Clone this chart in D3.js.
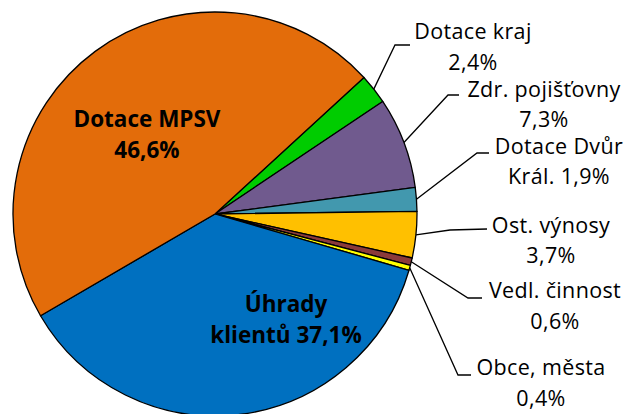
<!DOCTYPE html>
<html>
<head>
<meta charset="utf-8">
<script src="https://cdn.jsdelivr.net/npm/d3@7"></script>
<style>
  body { margin: 0; background: #fff; }
  text { font-family: "Open Sans", Lato, sans-serif; fill: #000; }
</style>
</head>
<body>
<svg class="chart" width="629" height="414"></svg>
<script>
// slices in clockwise order, starting at the green one
const categories = ["Dotace kraj", "Zdr. pojišťovny", "Dotace Dvůr Král.", "Ost. výnosy",
  "Vedl. činnost", "Obce, města", "Úhrady klientů", "Dotace MPSV"];
const shares = [2.4, 7.3, 1.9, 3.7, 0.6, 0.4, 37.1, 46.6];
const colors = ["#00cc00", "#705a8e", "#4298ae", "#ffc000", "#8b3a3a", "#ffff00", "#0070c0", "#e36c0a"];
const labelLines = [
  ["Dotace kraj", "2,4%"],
  ["Zdr. pojišťovny", "7,3%"],
  ["Dotace Dvůr", "Král. 1,9%"],
  ["Ost. výnosy", "3,7%"],
  ["Vedl. činnost", "0,6%"],
  ["Obce, města", "0,4%"],
  ["Úhrady", "klientů 37,1%"],
  ["Dotace MPSV", "46,6%"]
];

const svg = d3.select(".chart");
const cx = 215, cy = 214, radius = 202;
const startAngle = 47.5 * Math.PI / 180;

// where each label sits (first baseline), plus leader elbow/end for outside ones
const layout = [
  { x: 473, y: 39, gap: 31, elbow: [395, 45], end: [410, 45] },
  { x: 544, y: 97, gap: 29.5, elbow: [448, 95], end: [459, 95] },
  { x: 559, y: 154, gap: 29.5, elbow: [477, 153], end: [489, 153] },
  { x: 551, y: 233, gap: 29.5, elbow: [450, 230], end: [487, 229] },
  { x: 555, y: 298, gap: 31, elbow: [468, 298], end: [482, 298] },
  { x: 541, y: 375, gap: 31, elbow: [458, 375], end: [471, 375] },
  { x: 286, y: 312, gap: 31, inside: true },
  { x: 147, y: 127, gap: 31, inside: true }
];

const pie = d3.pie().sort(null).value((d) => d)
  .startAngle(startAngle).endAngle(startAngle + 2 * Math.PI);
const arcs = pie(shares);

const arc = d3.arc().innerRadius(0).outerRadius(radius);

const g = svg.append("g").attr("transform", `translate(${cx},${cy})`);

g.selectAll(".slice")
  .data(arcs)
  .enter()
  .append("path")
  .attr("class", "slice")
  .attr("d", arc)
  .attr("fill", (d, i) => colors[i])
  .attr("stroke", "#000")
  .attr("stroke-width", 1.3)
  .attr("stroke-linejoin", "round");

// leader lines
arcs.forEach((d, i) => {
  const l = layout[i];
  if (l.inside) return;
  const mid = (d.startAngle + d.endAngle) / 2;
  const p0 = [cx + radius * Math.sin(mid), cy - radius * Math.cos(mid)];
  svg.append("polyline")
    .attr("points", [p0, l.elbow, l.end].map((p) => p.join(",")).join(" "))
    .attr("fill", "none")
    .attr("stroke", "#000")
    .attr("stroke-width", 1.3);
});

// labels
categories.forEach((c, i) => {
  const l = layout[i];
  const t = svg.append("text")
    .attr("text-anchor", "middle")
    .attr("font-size", l.inside ? 22.5 : 21.5)
    .attr("letter-spacing", l.inside ? 0 : 0.35)
    .attr("font-weight", l.inside ? "bold" : "normal");
  labelLines[i].forEach((line, k) => {
    t.append("tspan")
      .attr("x", l.x)
      .attr("y", l.y + k * l.gap)
      .text(line);
  });
});
</script>
</body>
</html>
